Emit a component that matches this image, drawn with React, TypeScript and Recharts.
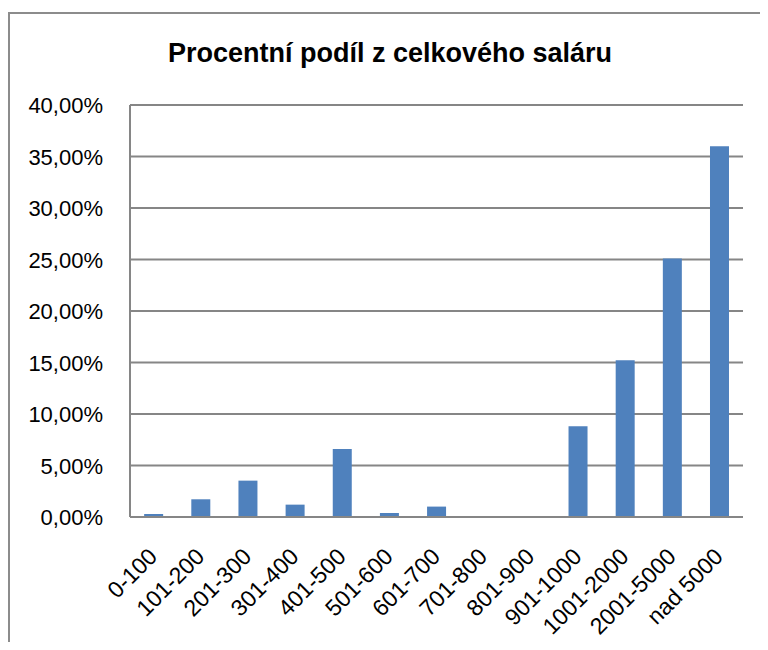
import React from "react";
import { ComposedChart, Bar, XAxis, YAxis, CartesianGrid } from "recharts";

const categories = ["0-100", "101-200", "201-300", "301-400", "401-500", "501-600", "601-700", "701-800", "801-900", "901-1000", "1001-2000", "2001-5000", "nad 5000"];
const shares = [0.29, 1.72, 3.53, 1.2, 6.6, 0.39, 1.01, 0, 0, 8.8, 15.21, 25.09, 36.0];
const yTicks = [0, 5, 10, 15, 20, 25, 30, 35, 40];
const title = "Procentní podíl z celkového saláru";

const data = categories.map((c, i) => ({ name: c, value: shares[i] }));

const FONT = "'Liberation Sans', Arial, sans-serif";

const fmtPct = (v: number) => v.toFixed(2).replace(".", ",") + "%";

const XTick = (props: any) => {
  const { x, y, payload } = props;
  const ax = x + 5;
  const ay = y + 33;
  return (
    <text
      x={ax}
      y={ay}
      transform={`rotate(-45, ${ax}, ${ay})`}
      textAnchor="end"
      fontSize={23}
      fontFamily={FONT}
      fill="#000"
    >
      {payload.value}
    </text>
  );
};

const YTick = (props: any) => {
  const { x, y, payload } = props;
  return (
    <text
      x={x}
      y={y}
      dy={8}
      textAnchor="end"
      fontSize={22}
      fontFamily={FONT}
      fill="#000"
    >
      {fmtPct(payload.value)}
    </text>
  );
};

export default function App() {
  return (
    <div style={{ position: "relative", width: 760, height: 642, marginBottom: -8, overflow: "hidden" }}>
      <div
        style={{
          position: "absolute",
          left: 0,
          top: 4,
          width: 800,
          height: 700,
          borderLeft: "2px solid #8c8c8c",
          borderTop: "2px solid #8c8c8c",
        }}
      />
      <div
        style={{
          position: "absolute",
          left: 0,
          width: 764,
          top: 30,
          textAlign: "center",
          fontFamily: FONT,
          fontWeight: "bold",
          fontSize: 27,
          color: "#000",
          whiteSpace: "nowrap",
        }}
      >
        {title}
      </div>
      <ComposedChart
        width={752}
        height={634}
        data={data}
        margin={{ top: 97, right: 17, bottom: 0, left: 0 }}
        barCategoryGap="30%"
        style={{ position: "absolute", left: 0, top: 0 }}
      >
        <CartesianGrid vertical={false} stroke="#868686" strokeWidth={2} />
        <XAxis
          dataKey="name"
          interval={0}
          height={125}
          tickLine={false}
          axisLine={{ stroke: "#868686", strokeWidth: 2 }}
          tick={<XTick />}
        />
        <YAxis
          width={122}
          domain={[0, 40]}
          ticks={yTicks}
          tickLine={false}
          tickSize={0}
          tickMargin={27}
          axisLine={{ stroke: "#868686", strokeWidth: 2 }}
          tick={<YTick />}
          interval={0}
        />
        <Bar dataKey="value" fill="#4F81BD" isAnimationActive={false} />
      </ComposedChart>
    </div>
  );
}
